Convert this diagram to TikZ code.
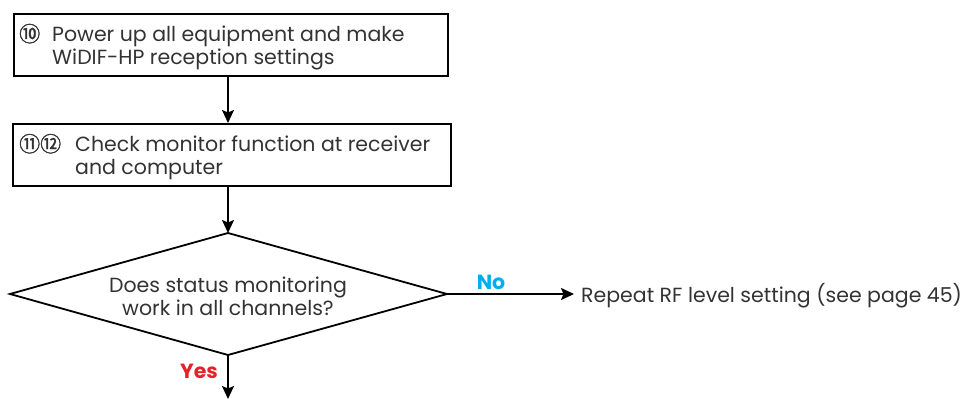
\documentclass[tikz,border=0pt]{standalone}
\usepackage{fontspec}
\setmainfont{Poppins}
\newfontfamily\circfont{Noto Sans CJK JP}[FakeBold=1.5]
\usetikzlibrary{arrows.meta,shapes.geometric}
\definecolor{txt}{HTML}{333333}
\definecolor{yesred}{HTML}{E8202A}
\definecolor{nocyan}{HTML}{00AEEF}
\newcommand{\circn}[1]{{\circfont\fontsize{21}{23}\selectfont #1}}
\begin{document}
\begin{tikzpicture}[x=1pt,y=-1pt,
  line/.style={draw=black,line width=1.8pt},
  arr/.style={line,-{Stealth[length=13pt,width=12pt,inset=2.5pt]}},
  lbl/.style={font=\fontsize{20.5}{22}\selectfont\bfseries},
  body/.style={text=txt,font=\fontsize{20.5}{23}\selectfont}]
\useasboundingbox (0,0) rectangle (970,399);
\node[line,minimum width=434pt,minimum height=62pt,anchor=north west,inner sep=0pt] (b1) at (13,13) {};
\node[body,anchor=west,align=left,inner sep=0pt] (t1) at (19,47) {\makebox[33pt][l]{\circn{⑩}}Power up all equipment and make\\\hspace*{33pt}WiDIF-HP reception settings};
\node[line,minimum width=438pt,minimum height=62pt,anchor=north west,inner sep=0pt] (b2) at (12,123) {};
\node[body,anchor=west,align=left,inner sep=0pt] (t2) at (19,157) {\makebox[56pt][l]{\circn{⑪⑫}}Check monitor function at receiver\\\hspace*{56pt}and computer};
\coordinate (dT) at (228,233);
\coordinate (dL) at (10,294);
\coordinate (dR) at (447,294);
\coordinate (dB) at (228,355);
\draw[line,line join=miter] (dT) -- (dR) -- (dB) -- (dL) -- cycle;
\node[body,align=center] (q) at (228,296) {Does status monitoring\\work in all channels?};
\draw[arr] (b1.south -| dT) -- (b2.north -| dT);
\draw[arr] (b2.south -| dT) -- (dT);
\coordinate (end) at (228,399);
\draw[arr] (dB) -- (end);
\node[body,anchor=west,inner sep=0pt] (rep) at (581,296) {Repeat RF level setting (see page 45)};
\draw[arr,shorten >=7pt] (dR) -- (rep.west |- dR);
\node[lbl,text=nocyan] (no) at (491,282) {No};
\node[lbl,text=yesred] (yes) at (199,371) {Yes};
\end{tikzpicture}
\end{document}
